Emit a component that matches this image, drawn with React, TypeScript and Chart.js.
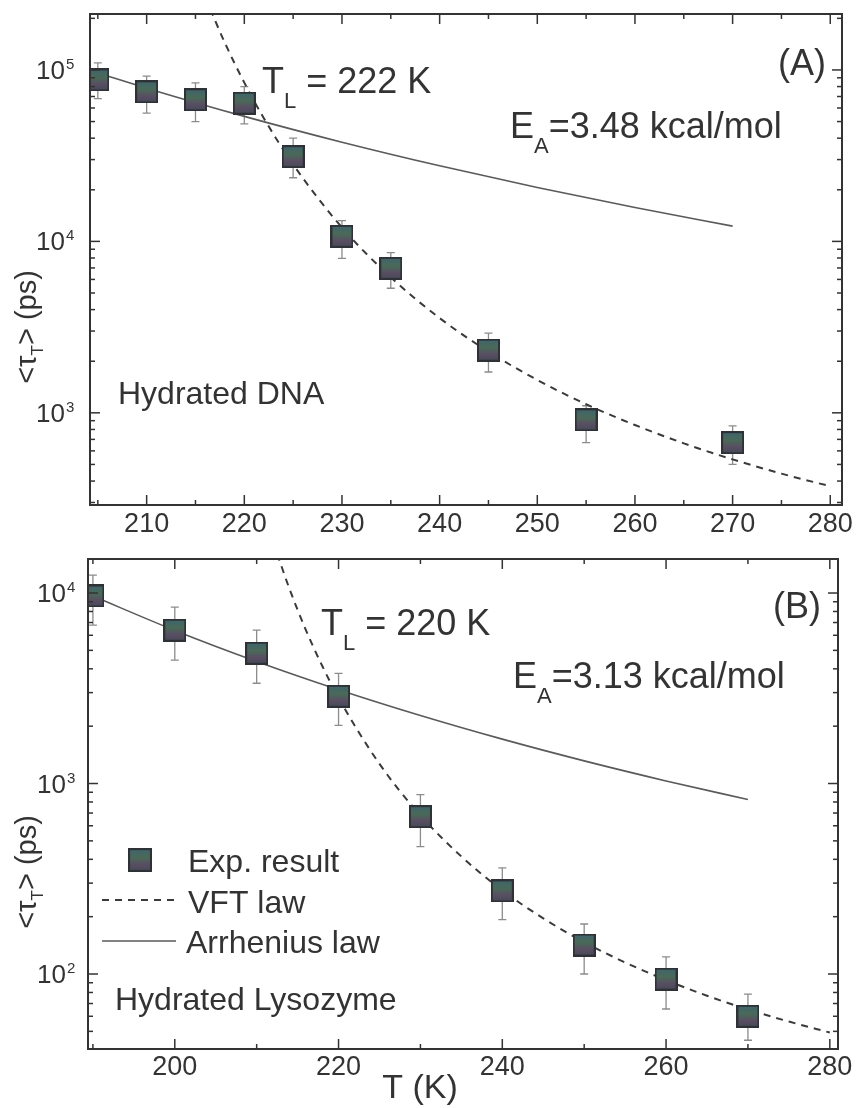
import React, { useEffect, useRef } from "react";
import { Chart, registerables } from "chart.js";

Chart.register(...registerables);

const FONT = '"Liberation Sans", Arial, Helvetica, sans-serif';
const INK = "#333333";

// ---------- Panel (A): Hydrated DNA ----------
const dnaT = [205, 210, 215, 220, 225, 230, 235, 245, 255, 270];
const dnaTau = [87500, 74500, 67000, 64000, 31200, 10700, 6960, 2320, 910, 670];
const dnaTauHi = [110000, 92000, 84000, 80000, 40000, 13200, 8600, 2920, 1100, 840];
const dnaTauLo = [68000, 56000, 50000, 48500, 23500, 7960, 5330, 1730, 670, 500];
const dnaArrT = [205, 210, 220, 230, 240, 250, 260, 270];
const dnaArrTau = [96000, 78300, 53600, 37900, 27600, 20600, 15750, 12270];
const dnaVftT = [216, 218, 220, 222, 225, 230, 235, 240, 245, 250, 255, 260, 265, 270, 275, 280];
const dnaVftTau = [265600, 144300, 84300, 52300, 28100, 12050, 6170, 3570, 2275, 1555, 1122, 849, 664, 535, 442, 373];
const dnaXTicks = [210, 220, 230, 240, 250, 260, 270, 280];
const dnaXMinor = [205, 215, 225, 235, 245, 255, 265, 275];
const dnaDecades = [3, 4, 5];

// ---------- Panel (B): Hydrated Lysozyme ----------
const lysT = [190, 200, 210, 220, 230, 240, 250, 260, 270];
const lysTau = [9650, 6380, 4830, 2870, 670, 273, 142, 94, 60];
const lysTauHi = [12400, 8440, 6380, 3790, 875, 361, 183, 123, 78.5];
const lysTauLo = [6780, 4440, 3360, 2020, 466, 193, 100, 65.5, 44.9];
const lysArrT = [190, 200, 210, 220, 230, 240, 250, 260, 270];
const lysArrTau = [9640, 6365, 4373, 3108, 2276, 1710, 1315, 1032, 824];
const lysVftT = [212, 214, 216, 218, 220, 225, 230, 235, 240, 245, 250, 255, 260, 265, 270, 275, 280];
const lysVftTau = [18600, 10540, 6410, 4150, 2820, 1268, 681, 414, 275, 196, 147, 115, 92.9, 76.9, 65.2, 56.3, 49.3];
const lysXTicks = [200, 220, 240, 260, 280];
const lysXMinor = [190, 210, 230, 250, 270];
const lysDecades = [2, 3, 4];

type Part = [string, number, number];

function rich(ctx: CanvasRenderingContext2D, x: number, y: number, parts: Part[]) {
  let cx = x;
  ctx.textAlign = "left";
  ctx.textBaseline = "alphabetic";
  for (const [t, s, dy] of parts) {
    ctx.font = `${s}px ${FONT}`;
    ctx.fillText(t, cx, y + dy);
    cx += ctx.measureText(t).width;
  }
  return cx - x;
}

function richWidth(ctx: CanvasRenderingContext2D, parts: Part[]) {
  let w = 0;
  for (const [t, s] of parts) {
    ctx.font = `${s}px ${FONT}`;
    w += ctx.measureText(t).width;
  }
  return w;
}

function makeMarker() {
  const c = document.createElement("canvas");
  c.width = 23;
  c.height = 23;
  const g = c.getContext("2d")!;
  const grad = g.createLinearGradient(0, 0, 0, 23);
  grad.addColorStop(0, "#3e6470");
  grad.addColorStop(0.4, "#4a6a58");
  grad.addColorStop(0.7, "#5a4d63");
  grad.addColorStop(1, "#404a55");
  g.fillStyle = grad;
  g.fillRect(0, 0, 23, 23);
  g.strokeStyle = "#2e3236";
  g.lineWidth = 2;
  g.strokeRect(1, 1, 21, 21);
  return c;
}

function drawFrame(chart: any, spec: any) {
  const { ctx, chartArea: a, scales } = chart;
  const xs = scales.x;
  const ys = scales.y;
  ctx.save();
  ctx.strokeStyle = INK;
  ctx.lineWidth = 2;
  ctx.strokeRect(a.left, a.top, a.right - a.left, a.bottom - a.top);
  ctx.lineWidth = 1.5;
  const seg = (x1: number, y1: number, x2: number, y2: number) => {
    ctx.beginPath();
    ctx.moveTo(x1, y1);
    ctx.lineTo(x2, y2);
    ctx.stroke();
  };
  const MAJ = 10;
  const MIN = 5;
  for (const v of spec.xTicks) {
    const px = xs.getPixelForValue(v);
    seg(px, a.bottom, px, a.bottom - MAJ);
    seg(px, a.top, px, a.top + MAJ);
  }
  for (const v of spec.xMinor) {
    const px = xs.getPixelForValue(v);
    seg(px, a.bottom, px, a.bottom - MIN);
    seg(px, a.top, px, a.top + MIN);
  }
  const d0 = Math.floor(Math.log10(spec.yMin));
  const d1 = Math.ceil(Math.log10(spec.yMax));
  for (let d = d0; d <= d1; d++) {
    for (let m = 1; m <= 9; m++) {
      const v = m * Math.pow(10, d);
      if (v < spec.yMin || v > spec.yMax) continue;
      const py = ys.getPixelForValue(v);
      const len = m === 1 ? MAJ : MIN;
      seg(a.left, py, a.left + len, py);
      seg(a.right, py, a.right - len, py);
    }
  }
  // x tick labels
  ctx.fillStyle = INK;
  ctx.font = `27px ${FONT}`;
  ctx.textAlign = "center";
  ctx.textBaseline = "alphabetic";
  for (const v of spec.xTicks) {
    ctx.fillText(String(v), xs.getPixelForValue(v), a.bottom + spec.xLabelDy);
  }
  // y tick labels: 10^n
  for (const d of spec.decades) {
    const py = ys.getPixelForValue(Math.pow(10, d));
    ctx.font = `26px ${FONT}`;
    ctx.textAlign = "right";
    ctx.fillText("10", a.left - spec.yLabelGap, py + 9);
    ctx.font = `15px ${FONT}`;
    ctx.textAlign = "left";
    ctx.fillText(String(d), a.left - spec.yLabelGap + 1, py - 1);
  }
  // y title
  ctx.save();
  ctx.translate(36, 327);
  ctx.rotate(-Math.PI / 2);
  const title: Part[] = [["<τ", 29, 0], ["T", 17, 7], ["> (ps)", 29, 0]];
  const w = richWidth(ctx, title);
  rich(ctx, -w / 2, 0, title);
  ctx.restore();
  ctx.restore();
}

function drawErrorBars(chart: any, spec: any) {
  const { ctx, scales } = chart;
  const xs = scales.x;
  const ys = scales.y;
  ctx.save();
  ctx.beginPath();
  ctx.rect(chart.chartArea.left, chart.chartArea.top, chart.chartArea.right - chart.chartArea.left, chart.chartArea.bottom - chart.chartArea.top);
  ctx.clip();
  ctx.strokeStyle = "#8c8c8c";
  ctx.lineWidth = 1.3;
  spec.T.forEach((t: number, i: number) => {
    const px = xs.getPixelForValue(t);
    const yh = ys.getPixelForValue(spec.hi[i]);
    const yl = ys.getPixelForValue(spec.lo[i]);
    ctx.beginPath();
    ctx.moveTo(px, yh);
    ctx.lineTo(px, yl);
    ctx.moveTo(px - 4, yh);
    ctx.lineTo(px + 4, yh);
    ctx.moveTo(px - 4, yl);
    ctx.lineTo(px + 4, yl);
    ctx.stroke();
  });
  ctx.restore();
}

function buildConfig(spec: any, marker: HTMLCanvasElement): any {
  const pts = (xs: number[], ys: number[]) => xs.map((x, i) => ({ x, y: ys[i] }));
  return {
    type: "scatter",
    data: {
      datasets: [
        {
          label: "Exp. result",
          data: pts(spec.T, spec.tau),
          pointStyle: marker,
          pointRadius: 12,
          showLine: false,
        },
        {
          label: "Arrhenius law",
          data: pts(spec.arrT, spec.arrTau),
          showLine: true,
          pointRadius: 0,
          borderColor: "#5a5a5a",
          borderWidth: 1.6,
          cubicInterpolationMode: "monotone",
        },
        {
          label: "VFT law",
          data: pts(spec.vftT, spec.vftTau),
          showLine: true,
          pointRadius: 0,
          borderColor: "#3a3a3a",
          borderWidth: 2,
          borderDash: [7, 6],
          cubicInterpolationMode: "monotone",
        },
      ],
    },
    options: {
      responsive: false,
      animation: false,
      events: [],
      layout: { padding: spec.padding },
      plugins: { legend: { display: false }, tooltip: { enabled: false } },
      scales: {
        x: { type: "linear", min: spec.xMin, max: spec.xMax, display: false },
        y: { type: "logarithmic", min: spec.yMin, max: spec.yMax, display: false },
      },
    },
    plugins: [
      {
        id: "deco",
        beforeDatasetsDraw(chart: any) {
          drawErrorBars(chart, spec);
        },
        afterDraw(chart: any) {
          drawFrame(chart, spec);
          const ctx = chart.ctx;
          ctx.save();
          ctx.fillStyle = INK;
          spec.annotate(ctx, marker);
          ctx.restore();
        },
      },
    ],
  };
}

const specA = {
  T: dnaT, tau: dnaTau, hi: dnaTauHi, lo: dnaTauLo,
  arrT: dnaArrT, arrTau: dnaArrTau, vftT: dnaVftT, vftTau: dnaVftTau,
  xMin: 204.2, xMax: 281.2, yMin: 290, yMax: 212000,
  xTicks: dnaXTicks, xMinor: dnaXMinor, decades: dnaDecades,
  padding: { left: 90, right: 16, top: 14, bottom: 40 },
  xLabelDy: 27, yLabelGap: 25,
  annotate(ctx: CanvasRenderingContext2D) {
    rich(ctx, 262, 93, [["T", 36, 0], ["L", 22, 15], [" = 222 K", 36, 0]]);
    rich(ctx, 778, 75, [["(A)", 36, 0]]);
    rich(ctx, 510, 138, [["E", 36, 0], ["A", 22, 15], ["=3.48 kcal/mol", 36, 0]]);
    rich(ctx, 118, 404, [["Hydrated DNA", 32, 0]]);
  },
};

const specB = {
  T: lysT, tau: lysTau, hi: lysTauHi, lo: lysTauLo,
  arrT: lysArrT, arrTau: lysArrTau, vftT: lysVftT, vftTau: lysVftTau,
  xMin: 189.4, xMax: 281, yMin: 40.4, yMax: 15085,
  xTicks: lysXTicks, xMinor: lysXMinor, decades: lysDecades,
  padding: { left: 88, right: 20, top: 14, bottom: 59 },
  xLabelDy: 26, yLabelGap: 22,
  annotate(ctx: CanvasRenderingContext2D, marker: HTMLCanvasElement) {
    rich(ctx, 321, 90, [["T", 36, 0], ["L", 22, 15], [" = 220 K", 36, 0]]);
    rich(ctx, 773, 73, [["(B)", 36, 0]]);
    rich(ctx, 513, 143, [["E", 36, 0], ["A", 22, 15], ["=3.13 kcal/mol", 36, 0]]);
    // legend
    ctx.drawImage(marker, 140 - 12, 315 - 12, 24, 24);
    rich(ctx, 188, 327, [["Exp. result", 32, 0]]);
    ctx.save();
    ctx.strokeStyle = "#3a3a3a";
    ctx.lineWidth = 2;
    ctx.setLineDash([7, 6]);
    ctx.beginPath();
    ctx.moveTo(102, 355);
    ctx.lineTo(174, 355);
    ctx.stroke();
    ctx.setLineDash([]);
    ctx.strokeStyle = "#5a5a5a";
    ctx.lineWidth = 1.6;
    ctx.beginPath();
    ctx.moveTo(102, 396);
    ctx.lineTo(176, 396);
    ctx.stroke();
    ctx.restore();
    rich(ctx, 188, 368, [["VFT law", 32, 0]]);
    rich(ctx, 186, 408, [["Arrhenius law", 32, 0]]);
    rich(ctx, 115, 465, [["Hydrated Lysozyme", 32, 0]]);
    // x-axis title
    const t: Part[] = [["T (K)", 34, 0]];
    const w = richWidth(ctx, t);
    rich(ctx, 420 - w / 2, 553, t);
  },
};

export default function App() {
  const topRef = useRef<HTMLCanvasElement>(null);
  const botRef = useRef<HTMLCanvasElement>(null);
  useEffect(() => {
    const marker = makeMarker();
    const c1 = new Chart(topRef.current!, buildConfig(specA, marker));
    const c2 = new Chart(botRef.current!, buildConfig(specB, marker));
    return () => {
      c1.destroy();
      c2.destroy();
    };
  }, []);
  return (
    <div style={{ position: "absolute", left: 0, top: 0, width: 858, height: 1108, background: "#fff" }}>
      <canvas ref={topRef} width={858} height={545} style={{ position: "absolute", left: 0, top: 0 }} />
      <canvas ref={botRef} width={858} height={563} style={{ position: "absolute", left: 0, top: 545 }} />
    </div>
  );
}
